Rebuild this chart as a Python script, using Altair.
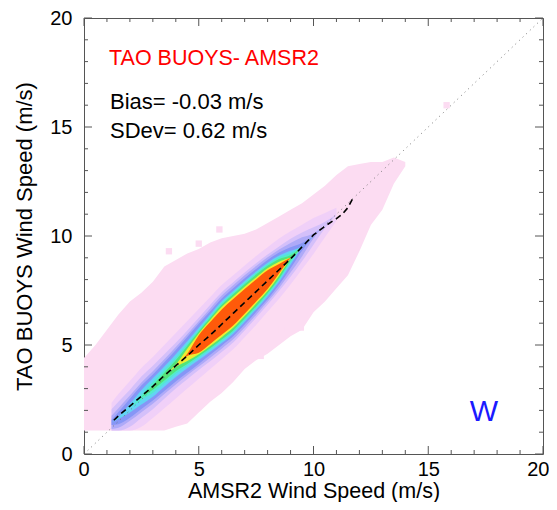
import altair as alt
import pandas as pd

# ---------------- data ----------------
tick_major = [0, 5, 10, 15, 20]
tick_minor = [1, 2, 3, 4, 6, 7, 8, 9, 11, 12, 13, 14, 16, 17, 18, 19]

# outer (lowest-density, pink) envelope of the 2-D histogram
pink_x = [0, 0.5, 1, 1.5, 2, 2.5, 3, 3.5, 4, 4.5, 5, 5.5, 6, 6.5, 7, 7.5,
          8, 8.5, 9, 9.5, 10, 10.5, 11, 11.5, 12, 12.5, 13, 13.5, 14]
pink_lo = [1.08, 1.08, 1.08, 1.08, 1.08, 1.08, 1.08, 1.08, 1.25, 1.4, 1.9, 2.4,
           2.8, 3.3, 3.9, 4.3, 4.6, 5.0, 5.4, 5.7, 6.5, 7.0, 7.6, 8.2, 9.3,
           10.5, 11.2, 12.4, 13.2]
pink_hi = [4.4, 5.0, 5.7, 6.4, 7.0, 7.4, 7.9, 8.6, 8.9, 9.2, 9.4, 9.7, 9.9,
           10.0, 10.1, 10.3, 10.6, 10.9, 11.2, 11.5, 11.9, 12.3, 12.8, 13.2,
           13.3, 13.4, 13.4, 13.6, 13.4]

# isolated low-count cells
blob_x = [3.7, 5.0, 5.9, 7.7, 8.6, 9.45, 15.8]
blob_y = [9.3, 9.65, 10.3, 4.5, 5.7, 5.8, 16.0]

# density bands: ridge centre and vertical half-widths per contour level
band_x = [1.2, 1.5, 2.0, 2.5, 3.0, 3.5, 4.0, 4.5, 5.0, 5.5, 6.0, 6.5, 7.0,
          7.5, 8.0, 8.5, 9.0, 9.5, 10.0, 10.5, 11.0]
band_c = [1.45, 1.65, 2.1, 2.6, 3.05, 3.55, 4.05, 4.55, 5.05, 5.55, 6.05, 6.5,
          7.0, 7.5, 8.0, 8.5, 9.0, 9.5, 10.0, 10.5, 11.0]
w_lev1 = [0.9, 1.1, 1.25, 1.35, 1.4, 1.45, 1.5, 1.55, 1.6, 1.65, 1.7, 1.7,
          1.65, 1.58, 1.48, 1.38, 1.22, 1.02, 0.82, 0.56, 0.3]
w_lev2 = [0.6, 0.75, 0.85, 0.95, 1.0, 1.02, 1.05, 1.12, 1.2, 1.3, 1.37, 1.38,
          1.33, 1.25, 1.15, 1.02, 0.87, 0.66, 0.4, 0.15, 0]
w_lev3 = [0.3, 0.45, 0.58, 0.68, 0.75, 0.8, 0.86, 0.94, 1.04, 1.13, 1.22, 1.24,
          1.2, 1.12, 1.02, 0.88, 0.68, 0.44, 0.12, 0, 0]
w_lev4 = [0.12, 0.28, 0.44, 0.54, 0.6, 0.66, 0.72, 0.82, 0.92, 1.0, 1.08, 1.1,
          1.06, 0.99, 0.9, 0.74, 0.48, 0.18, 0, 0, 0]
w_lev5 = [0, 0.05, 0.2, 0.33, 0.42, 0.46, 0.52, 0.62, 0.74, 0.86, 0.96, 0.98,
          0.94, 0.87, 0.77, 0.6, 0.32, 0.02, 0, 0, 0]
w_lev6 = [0, 0, 0, 0.12, 0.25, 0.32, 0.37, 0.5, 0.64, 0.77, 0.87, 0.9, 0.86,
          0.8, 0.7, 0.52, 0.22, 0, 0, 0, 0]
w_lev7 = [0, 0, 0, 0, 0.1, 0.18, 0.25, 0.42, 0.57, 0.7, 0.8, 0.83, 0.79,
          0.73, 0.63, 0.45, 0.12, 0, 0, 0, 0]
w_lev8 = [0, 0, 0, 0, 0, 0, 0.05, 0.28, 0.48, 0.6, 0.69, 0.71, 0.67, 0.6,
          0.52, 0.32, 0, 0, 0, 0, 0]
w_lev9 = [0, 0, 0, 0, 0, 0, 0, 0.05, 0.4, 0.5, 0.58, 0.61, 0.57, 0.51, 0.43,
          0.22, 0, 0, 0, 0, 0]
band_widths = [w_lev1, w_lev2, w_lev3, w_lev4, w_lev5, w_lev6, w_lev7,
               w_lev8, w_lev9]
band_colors = ["#f0d0f8", "#d4c0fa", "#aeaaf8", "#8696f6", "#62d4f4",
               "#52eccc", "#52e47a", "#f0ec32", "#ff5a0a"]
data_floor = 1.08

# binned mean (dashed)
mean_x = [1.3, 1.5, 2.0, 2.5, 3.0, 3.5, 4.0, 4.5, 5.0, 5.5, 6.0, 6.5, 7.0,
          7.5, 8.0, 8.5, 9.0, 9.5, 10.0, 10.5, 11.0, 11.25, 11.5, 11.7]
mean_y = [1.55, 1.75, 2.2, 2.65, 3.1, 3.6, 4.05, 4.5, 5.0, 5.45, 5.95, 6.45,
          6.95, 7.45, 7.95, 8.45, 8.95, 9.5, 10.05, 10.45, 10.8, 11.0, 11.3,
          11.7]

diag = [0, 20]

title_text = "TAO BUOYS- AMSR2"
bias_text = "Bias= -0.03 m/s"
sdev_text = "SDev= 0.62 m/s"
tag_text = "W"

# ---------------- chart ----------------
W, H = 459, 436
FONT = "Liberation Sans"
xs = alt.Scale(domain=[0, 20], nice=False, zero=False)
ys = alt.Scale(domain=[0, 20], nice=False, zero=False)

x_axis = alt.Axis(
    values=tick_major, ticks=False, domain=False, grid=False,
    labelPadding=5, labelFontSize=20, labelFont=FONT, labelColor="black",
    labelFlush=True, labelFlushOffset=6, title="AMSR2 Wind Speed (m/s)",
    titleFontSize=21.5, titleFont=FONT, titleFontWeight="normal",
    titleColor="black", titleY=43, titleBaseline="alphabetic")
y_axis = alt.Axis(
    values=tick_major, ticks=False, domain=False, grid=False,
    labelPadding=12, labelFontSize=20, labelFont=FONT, labelColor="black",
    labelFlush=False, title="TAO BUOYS Wind Speed (m/s)", titleFontSize=22,
    titleFont=FONT, titleFontWeight="normal", titleColor="black",
    titleAngle=270, titleX=-60, titleY=H / 2, titleBaseline="middle",
    titleAlign="center")


def X(field):
    return alt.X(field, scale=xs, axis=x_axis)


def Y(field):
    return alt.Y(field, scale=ys, axis=y_axis)


pink_df = pd.DataFrame({"x": pink_x, "lo": pink_lo, "hi": pink_hi})
pink = alt.Chart(pink_df).mark_area(color="#fcdcf2", interpolate="linear").encode(
    x=X("x:Q"), y=Y("lo:Q"), y2="hi:Q")

blobs = alt.Chart(pd.DataFrame({"x": blob_x, "y": blob_y})).mark_square(
    color="#fcdcf2", size=40, opacity=1).encode(x=X("x:Q"), y=Y("y:Q"))

layers = [pink, blobs]
for widths, col in zip(band_widths, band_colors):
    rows = []
    n = len(band_x)
    for i in range(n):
        keep = widths[i] > 0 or (i > 0 and widths[i - 1] > 0) or (i < n - 1 and widths[i + 1] > 0)
        if keep:
            rows.append({"x": band_x[i],
                         "lo": max(band_c[i] - widths[i], data_floor),
                         "hi": band_c[i] + widths[i]})
    layers.append(alt.Chart(pd.DataFrame(rows)).mark_area(
        color=col, interpolate="monotone").encode(
        x=X("x:Q"), y=Y("lo:Q"), y2="hi:Q"))

diag_line = alt.Chart(pd.DataFrame({"x": diag, "y": diag})).mark_line(
    color="#777777", strokeWidth=1, strokeDash=[1, 4]).encode(
    x=X("x:Q"), y=Y("y:Q"))

mean_line = alt.Chart(pd.DataFrame({"x": mean_x, "y": mean_y})).mark_line(
    color="black", strokeWidth=1.6, strokeDash=[6, 4]).encode(
    x=X("x:Q"), y=Y("y:Q"))

layers += [diag_line, mean_line]

# inward ticks on all four sides
TC = "#555555"
for vals, ln in ((tick_major, 8), (tick_minor, 4)):
    tdf = pd.DataFrame({"x": vals, "y": vals})
    layers.append(alt.Chart(tdf).mark_rule(color=TC, strokeWidth=1).encode(
        x=X("x:Q"), y=alt.value(H), y2=alt.value(H - ln)))
    layers.append(alt.Chart(tdf).mark_rule(color=TC, strokeWidth=1).encode(
        x=X("x:Q"), y=alt.value(0), y2=alt.value(ln)))
    layers.append(alt.Chart(tdf).mark_rule(color=TC, strokeWidth=1).encode(
        y=Y("y:Q"), x=alt.value(0), x2=alt.value(ln)))
    layers.append(alt.Chart(tdf).mark_rule(color=TC, strokeWidth=1).encode(
        y=Y("y:Q"), x=alt.value(W), x2=alt.value(W - ln)))


def label(txt, x, y, color, size, align="left"):
    return alt.Chart(pd.DataFrame({"t": [txt]})).mark_text(
        align=align, baseline="alphabetic", font=FONT, fontSize=size,
        color=color).encode(text="t:N", x=alt.value(x), y=alt.value(y))


layers += [
    label(title_text, 25, 47, "#ff0000", 21.5),
    label(bias_text, 26, 91, "black", 22),
    label(sdev_text, 26, 120, "black", 22),
    label(tag_text, 400, 403, "#1a1aff", 30, align="center"),
]

chart = alt.layer(*layers).properties(
    width=W, height=H,
    padding={"left": 76, "top": 10, "right": 6, "bottom": 48},
    autosize=alt.AutoSizeParams(type="none"),
).configure_view(stroke="#555555", strokeWidth=1)

chart.save("out.html", embed_options={"renderer": "svg", "actions": False})
